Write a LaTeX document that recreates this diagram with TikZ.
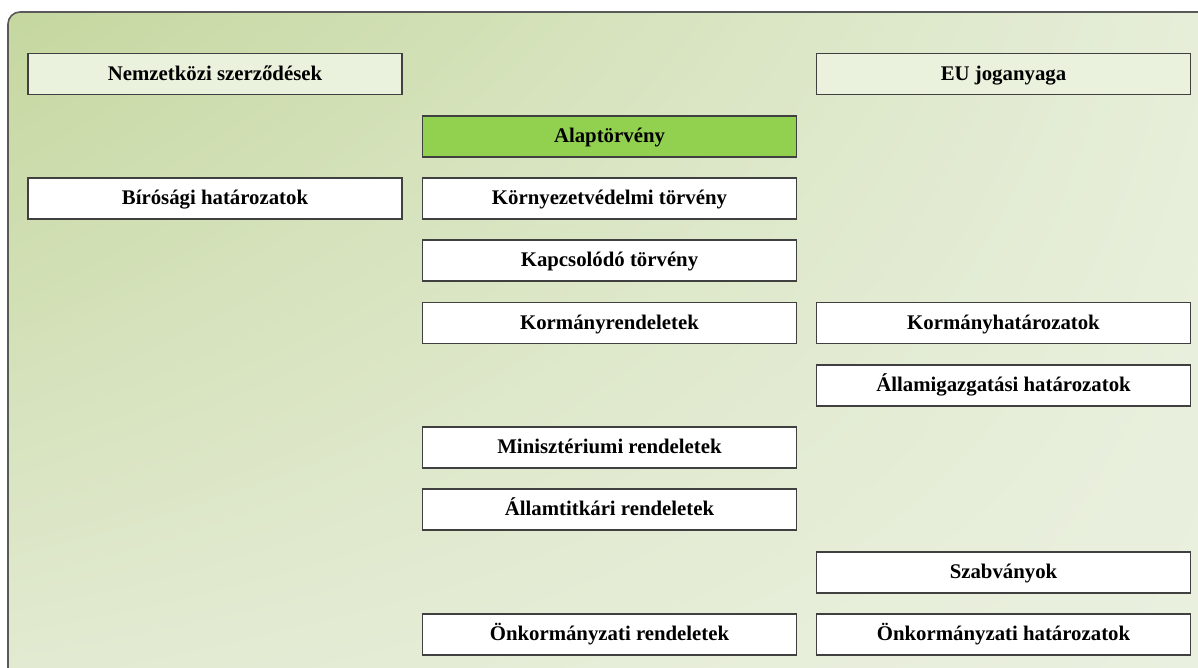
\documentclass[tikz,border=0pt]{standalone}
\usepackage{fontspec}
\setmainfont{Liberation Serif}
\usetikzlibrary{shadings}
\begin{document}
\begin{tikzpicture}[x=1pt,y=-1pt,
  lbox/.style={draw=black!75, line width=1.1pt, fill=white, minimum width=374pt, minimum height=41pt,
    inner sep=0pt, text height=14.5pt, text depth=1.6pt,
    font=\fontsize{20.8}{23}\selectfont\bfseries, text=black},
  softbox/.style={lbox, fill=softfill},
  keybox/.style={lbox, fill=keyfill}]
\definecolor{softfill}{HTML}{EAF1DD}
\definecolor{keyfill}{HTML}{92D050}
\definecolor{bgA}{HTML}{C5D79F}
\definecolor{bgB}{HTML}{E6EED9}
\definecolor{bgC}{HTML}{E2EAD1}
\definecolor{bgD}{HTML}{EAF0DF}
\useasboundingbox (0,0) rectangle (1198,668);
% background panel, only the top-left corner is rounded
\shade[upper left=bgA, upper right=bgB, lower left=bgC, lower right=bgD]
  (8,668) -- (8,24) arc[start angle=180, end angle=270, radius=12] -- (1198,12) -- (1198,668) -- cycle;
\draw[black!65, line width=1.6pt] (8,668) -- (8,24) arc[start angle=180, end angle=270, radius=12] -- (1198,12);
% left column
\node[softbox] (nemz) at (215,74) {Nemzetközi szerződések};
\node[lbox] (biro) at (215,198.5) {Bírósági határozatok};
% middle column
\node[keybox] (alap) at (609.5,136.5) {Alaptörvény};
\node[lbox] (korny) at (609.5,198.5) {Környezetvédelmi törvény};
\node[lbox] (kapcs) at (609.5,260.5) {Kapcsolódó törvény};
\node[lbox] (kormr) at (609.5,323) {Kormányrendeletek};
\node[lbox] (minisz) at (609.5,447.5) {Minisztériumi rendeletek};
\node[lbox] (allamt) at (609.5,509.5) {Államtitkári rendeletek};
\node[lbox] (onkr) at (609.5,634.5) {Önkormányzati rendeletek};
% right column
\node[softbox] (eu) at (1003.5,74) {EU joganyaga};
\node[lbox] (kormh) at (1003.5,323) {Kormányhatározatok};
\node[lbox] (allami) at (1003.5,385.5) {Államigazgatási határozatok};
\node[lbox] (szabv) at (1003.5,572.5) {Szabványok};
\node[lbox] (onkh) at (1003.5,634.5) {Önkormányzati határozatok};
\end{tikzpicture}
\end{document}
